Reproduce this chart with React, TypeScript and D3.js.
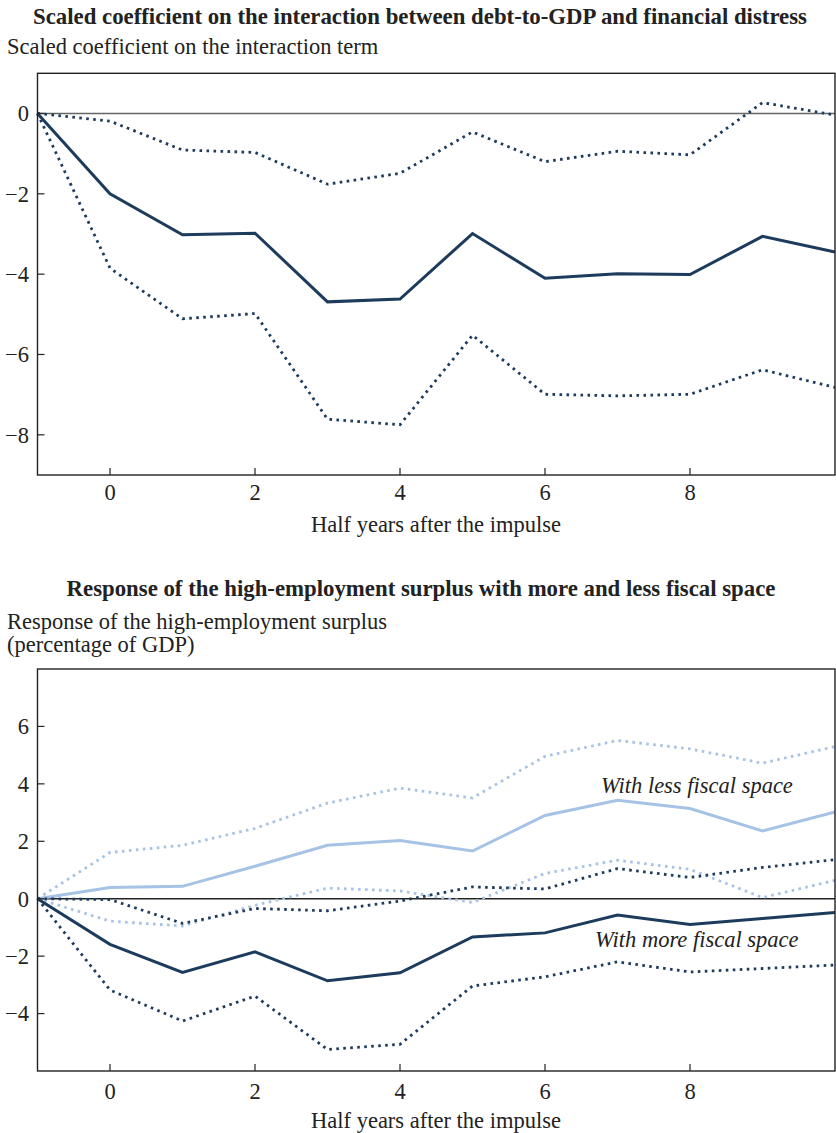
import React from "react";
import * as d3 from "d3";

const horizons = [-1, 0, 1, 2, 3, 4, 5, 6, 7, 8, 9, 10];
const xTicks = [0, 2, 4, 6, 8];

// Panel 1: scaled coefficient on interaction term
const coefCenter = [0, -2.0, -3.02, -2.98, -4.69, -4.62, -2.99, -4.1, -3.99, -4.01, -3.06, -3.45];
const coefUpper = [0, -0.19, -0.91, -0.97, -1.76, -1.49, -0.46, -1.2, -0.94, -1.03, 0.27, -0.04];
const coefLower = [0, -3.85, -5.11, -4.98, -7.61, -7.75, -5.52, -6.99, -7.03, -6.99, -6.38, -6.82];
const yTicks1 = [-8, -6, -4, -2, 0];

// Panel 2: response of high-employment surplus
const moreCenter = [0, -1.59, -2.57, -1.85, -2.86, -2.58, -1.33, -1.19, -0.57, -0.9, -0.69, -0.48];
const moreUpper = [0, -0.03, -0.86, -0.34, -0.42, -0.08, 0.41, 0.34, 1.05, 0.74, 1.09, 1.36];
const moreLower = [0, -3.18, -4.26, -3.39, -5.25, -5.07, -3.04, -2.72, -2.2, -2.55, -2.43, -2.31];
const lessCenter = [0, 0.39, 0.43, 1.13, 1.86, 2.03, 1.66, 2.9, 3.43, 3.14, 2.36, 3.02];
const lessUpper = [0, 1.61, 1.86, 2.45, 3.33, 3.85, 3.51, 4.96, 5.51, 5.22, 4.72, 5.3];
const lessLower = [0, -0.78, -0.95, -0.23, 0.37, 0.27, -0.13, 0.88, 1.34, 1.02, 0.04, 0.64];
const yTicks2 = [-4, -2, 0, 2, 4, 6];

const DARK = "#1d3b5c";
const LIGHT = "#a6c3e5";
const FONT = "'Liberation Serif', 'Times New Roman', serif";
const FS = 22.5;
const fmt = (v: number) => (v < 0 ? "\u2212" + Math.abs(v) : String(v));

type Series = { values: number[]; color: string; dotted: boolean };

function Panel(props: {
  top: number;
  bottom: number;
  yDomain: [number, number];
  yTicks: number[];
  series: Series[];
  zeroColor: string;
  xLabelY: number;
  xTitleY: number;
}) {
  const { top, bottom, yDomain, yTicks, series, zeroColor, xLabelY, xTitleY } = props;
  const x = d3.scaleLinear().domain([-1, 10]).range([37.5, 835]);
  const y = d3.scaleLinear().domain(yDomain).range([bottom, top]);
  const line = (vals: number[]) =>
    d3
      .line<number>()
      .x((_, i) => x(horizons[i]))
      .y((d) => y(d))(vals) || "";
  return (
    <g>
      <line x1={x(-1)} x2={x(10)} y1={y(0)} y2={y(0)} stroke={zeroColor} strokeWidth={1.5} />
      {series.map((s, i) => (
        <path
          key={i}
          d={line(s.values)}
          fill="none"
          stroke={s.color}
          strokeWidth={s.dotted ? 2.8 : 3}
          strokeDasharray={s.dotted ? "2.6 4.4" : undefined}
          strokeLinejoin="miter"
        />
      ))}
      <rect
        x={x(-1)}
        y={top}
        width={x(10) - x(-1)}
        height={bottom - top}
        fill="none"
        stroke="#222"
        strokeWidth={1.4}
      />
      {yTicks.map((t) => (
        <g key={"y" + t}>
          <line x1={x(-1)} x2={x(-1) + 7} y1={y(t)} y2={y(t)} stroke="#222" strokeWidth={1.2} />
          <text x={29} y={y(t)} dy="0.35em" textAnchor="end" fontSize={FS} fontFamily={FONT} fill="#222">
            {fmt(t)}
          </text>
        </g>
      ))}
      {xTicks.map((t) => (
        <g key={"x" + t}>
          <line x1={x(t)} x2={x(t)} y1={bottom} y2={bottom - 7} stroke="#222" strokeWidth={1.2} />
          <text x={x(t)} y={xLabelY} textAnchor="middle" fontSize={FS} fontFamily={FONT} fill="#222">
            {fmt(t)}
          </text>
        </g>
      ))}
      <text x={436} y={xTitleY} textAnchor="middle" fontSize={FS} fontFamily={FONT} fill="#222">
        Half years after the impulse
      </text>
    </g>
  );
}

export default function App() {
  const s1: Series[] = [
    { values: coefUpper, color: DARK, dotted: true },
    { values: coefLower, color: DARK, dotted: true },
    { values: coefCenter, color: DARK, dotted: false },
  ];
  const s2: Series[] = [
    { values: lessUpper, color: LIGHT, dotted: true },
    { values: lessLower, color: LIGHT, dotted: true },
    { values: lessCenter, color: LIGHT, dotted: false },
    { values: moreUpper, color: DARK, dotted: true },
    { values: moreLower, color: DARK, dotted: true },
    { values: moreCenter, color: DARK, dotted: false },
  ];
  return (
    <svg
      width={836}
      height={1133}
      style={{ position: "absolute", left: 0, top: 0, background: "#fff" }}
    >
      <text x={420} y={24} textAnchor="middle" fontSize={22.8} fontWeight="bold" fontFamily={FONT} fill="#222">
        Scaled coefficient on the interaction between debt-to-GDP and financial distress
      </text>
      <text x={7} y={54} fontSize={FS} fontFamily={FONT} fill="#222">
        Scaled coefficient on the interaction term
      </text>
      <Panel
        top={73.3}
        bottom={475}
        yDomain={[-9, 1]}
        yTicks={yTicks1}
        series={s1}
        zeroColor="#666"
        xLabelY={500}
        xTitleY={532}
      />
      <text x={421} y={596} textAnchor="middle" fontSize={22.8} fontWeight="bold" fontFamily={FONT} fill="#222">
        Response of the high-employment surplus with more and less fiscal space
      </text>
      <text x={7} y={629} fontSize={FS} fontFamily={FONT} fill="#222">
        Response of the high-employment surplus
      </text>
      <text x={7} y={652} fontSize={FS} fontFamily={FONT} fill="#222">
        (percentage of GDP)
      </text>
      <Panel
        top={669}
        bottom={1071}
        yDomain={[-6, 8]}
        yTicks={yTicks2}
        series={s2}
        zeroColor="#222"
        xLabelY={1099}
        xTitleY={1128}
      />
      <text x={601} y={792.5} fontSize={FS} fontStyle="italic" fontFamily={FONT} fill="#222">
        With less fiscal space
      </text>
      <text x={595} y={946.5} fontSize={FS} fontStyle="italic" fontFamily={FONT} fill="#222">
        With more fiscal space
      </text>
    </svg>
  );
}
